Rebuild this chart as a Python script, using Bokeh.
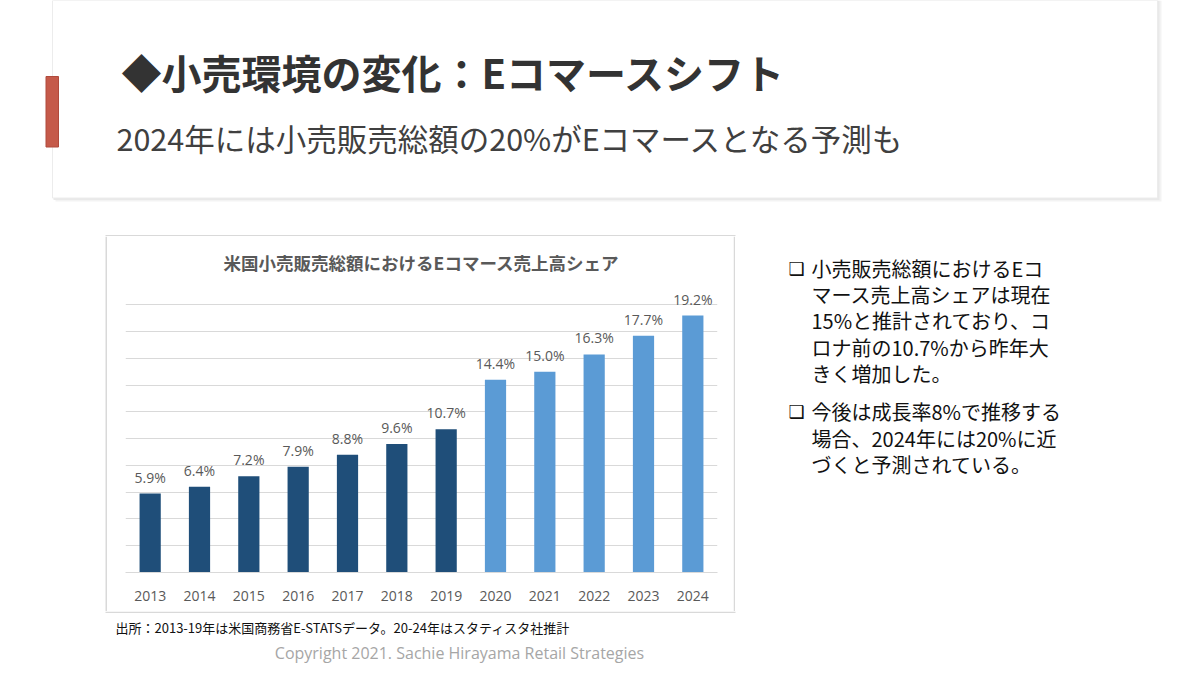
from bokeh.plotting import figure
from bokeh.models import ColumnDataSource, Range1d, FactorRange, LabelSet, FixedTicker, Grid
from bokeh.layouts import column, row
from bokeh.transform import factor_cmap
from bokeh.core.properties import value
from bokeh.embed import file_html
from bokeh.resources import INLINE

# ---------------- data ----------------
years = ["2013", "2014", "2015", "2016", "2017", "2018", "2019",
         "2020", "2021", "2022", "2023", "2024"]
shares = [5.9, 6.4, 7.2, 7.9, 8.8, 9.6, 10.7, 14.4, 15.0, 16.3, 17.7, 19.2]
kinds = ["実績", "実績", "実績", "実績", "実績", "実績", "実績",
         "推計", "推計", "推計", "推計", "推計"]
kind_factors = ["実績", "推計"]
y_ticks = [0, 2, 4, 6, 8, 10, 12, 14, 16, 18, 20]

slide_title = "◆小売環境の変化：Eコマースシフト"
slide_subtitle = "2024年には小売販売総額の20%がEコマースとなる予測も"
chart_title = "米国小売販売総額におけるEコマース売上高シェア"
bullet_lines_1 = ["小売販売総額におけるEコ", "マース売上高シェアは現在",
                  "15%と推計されており、コ", "ロナ前の10.7%から昨年大",
                  "きく増加した。"]
bullet_lines_2 = ["今後は成長率8%で推移する", "場合、2024年には20%に近",
                  "づくと予測されている。"]
source_note = "出所：2013-19年は米国商務省E-STATSデータ。20-24年はスタティスタ社推計"
copyright_note = "Copyright 2021. Sachie Hirayama Retail Strategies"

# ---------------- styles ----------------
JP = value("Noto Sans CJK JP")
LAT = value("Open Sans")
DARK = "#1F4E79"
LIGHT = "#5B9BD5"
GRID = "#D9D9D9"
LABEL = "#595959"
BOX = "#D9D9D9"


def blank(width, height, xr, yr):
    f = figure(width=width, height=height, x_range=Range1d(*xr), y_range=Range1d(*yr),
               output_backend="svg", toolbar_location=None,
               x_axis_location=None, y_axis_location=None,
               min_border=0, min_border_left=0, min_border_right=0,
               min_border_top=0, min_border_bottom=0)
    f.outline_line_color = None
    f.grid.visible = False
    f.background_fill_color = "white"
    f.border_fill_color = "white"
    return f


# ---------------- header ----------------
header = blank(1200, 236, (0, 1200), (236, 0))
header.quad(left=[55], right=[1161], top=[0], bottom=[201], fill_color="#f3f3f3", line_color=None)
header.quad(left=[53], right=[1159], top=[0], bottom=[199.5], fill_color="#e9e9e9", line_color=None)
header.quad(left=[52], right=[1157], top=[0], bottom=[197.5], fill_color="white",
            line_color="#ececec", line_width=1)
header.quad(left=[45.5], right=[58], top=[76], bottom=[146.5], fill_color="#C55A4A",
            line_color="#B04A3C", line_width=1)
header.text(x=[121], y=[71], text=[slide_title], text_font=JP, text_font_style="bold",
            text_font_size="40px", text_color="#333333", text_baseline="middle")
header.text(x=[116], y=[137], text=[slide_subtitle], text_font=JP,
            text_font_size="30.5px", text_color="#404040", text_baseline="middle")
# top edge of chart box
header.quad(left=[105], right=[735], top=[234.5], bottom=[236], fill_color=BOX, line_color=None)

# ---------------- chart ----------------
src = ColumnDataSource(dict(year=years, share=shares, kind=kinds,
                            label=[f"{v:.1f}%" for v in shares]))

chart = figure(width=626, height=375, x_range=FactorRange(*years), y_range=Range1d(0, 21.6),
               output_backend="svg", toolbar_location=None, y_axis_location=None,
               min_border_left=18, min_border_right=16, min_border_top=47, min_border_bottom=39,
               title=chart_title)
chart.outline_line_color = None
chart.xgrid.visible = False
chart.ygrid.visible = False
chart.add_layout(Grid(dimension=1, ticker=FixedTicker(ticks=y_ticks),
                      grid_line_color=GRID, grid_line_width=1))
chart.vbar(x="year", top="share", width=0.43, source=src, line_color=None,
           fill_color=factor_cmap("kind", palette=[DARK, LIGHT], factors=kind_factors))
chart.add_layout(LabelSet(x="year", y="share", text="label", source=src,
                          text_align="center", text_baseline="bottom", y_offset=7,
                          text_font=LAT, text_font_size="14px", text_color=LABEL))
chart.xaxis.axis_line_color = GRID
chart.xaxis.major_tick_line_color = None
chart.xaxis.minor_tick_line_color = None
chart.xaxis.major_label_text_font = "Open Sans"
chart.xaxis.major_label_text_font_size = "14px"
chart.xaxis.major_label_text_color = LABEL
chart.xaxis.major_label_standoff = 12
chart.title.text_font = "Noto Sans CJK JP"
chart.title.text_font_style = "bold"
chart.title.text_font_size = "17.5px"
chart.title.text_color = LABEL
chart.title.align = "center"
chart.title.standoff = 17

# ---------------- left strip ----------------
left = blank(107, 375, (0, 107), (611, 236))
left.quad(left=[105], right=[107], top=[236], bottom=[611], fill_color=BOX, line_color=None)

# ---------------- right text ----------------
right = blank(467, 375, (733, 1200), (611, 236))
right.quad(left=[733], right=[734.5], top=[236], bottom=[611], fill_color=BOX, line_color=None)
ys1 = [268, 294, 320, 347, 373]
ys2 = [411, 438, 464]
right.text(x=[811] * len(bullet_lines_1), y=ys1, text=bullet_lines_1, text_font=JP,
           text_font_size="20px", text_color="#111111", text_baseline="middle")
right.text(x=[811] * len(bullet_lines_2), y=ys2, text=bullet_lines_2, text_font=JP,
           text_font_size="20px", text_color="#111111", text_baseline="middle")
right.text(x=[788, 788], y=[268, 411], text=["❑", "❑"], text_font=value("DejaVu Sans"),
           text_font_style="bold", text_font_size="18px", text_color="#111111",
           text_baseline="middle")

# ---------------- footer ----------------
footer = blank(1200, 64, (0, 1200), (675, 611))
footer.quad(left=[105], right=[735], top=[611], bottom=[612.5], fill_color=BOX, line_color=None)
footer.text(x=[115], y=[627], text=[source_note], text_font=JP, text_font_size="13px",
            text_color="#111111", text_baseline="middle")
footer.text(x=[459], y=[652], text=[copyright_note], text_font=LAT, text_font_size="16px",
            text_color="#A6A6A6", text_baseline="middle", text_align="center")

layout = column(header, row(column(left), column(chart), column(right)), footer)

open("out.html", "w").write(file_html(layout, INLINE))
